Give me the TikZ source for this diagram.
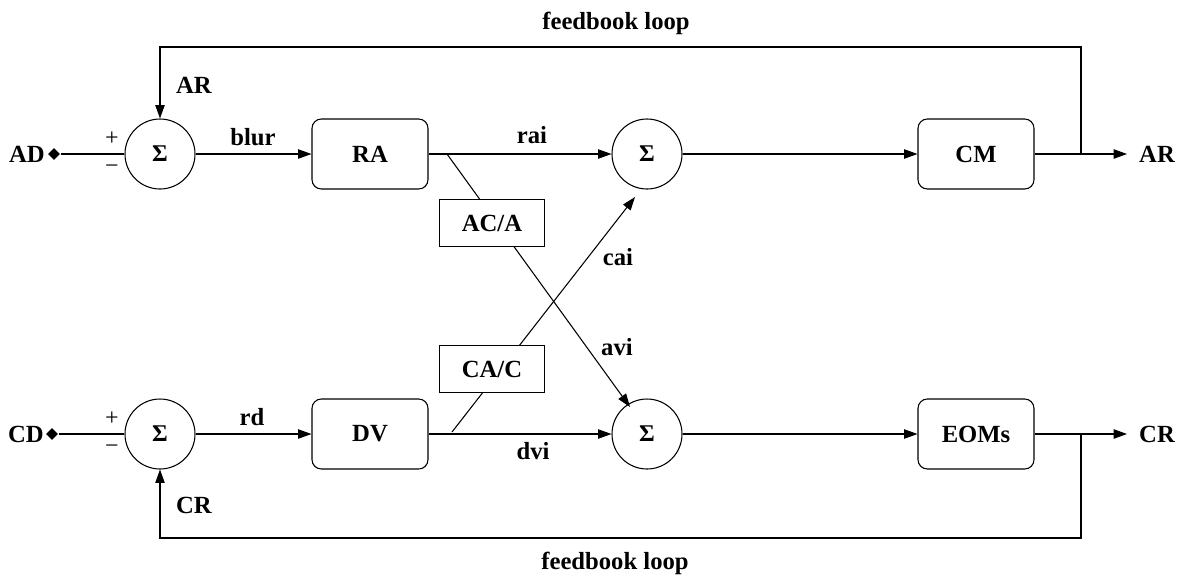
\documentclass[tikz,border=0pt]{standalone}
\usepackage{fontspec}
\setmainfont{Liberation Serif}
\usetikzlibrary{arrows.meta,shapes.geometric}
\begin{document}
\begin{tikzpicture}[x=0.75pt,y=-0.75pt,
  line width=0.8pt,
  arr/.style={-{Triangle[length=10pt,width=7pt]}},
  sumnode/.style={circle,draw,minimum size=52.5pt,inner sep=0pt,font=\fontsize{18}{20}\selectfont\bfseries},
  blk/.style={draw,rounded corners=7pt,minimum width=87pt,minimum height=52.5pt,inner sep=0pt,font=\fontsize{18.5}{21}\selectfont\bfseries},
  gain/.style={draw,fill=white,minimum width=78.75pt,minimum height=35.25pt,inner sep=0pt,font=\fontsize{18.5}{21}\selectfont\bfseries},
  lbl/.style={font=\fontsize{18.5}{21}\selectfont\bfseries,inner sep=0pt},
  sgn/.style={font=\fontsize{18}{20}\selectfont,inner sep=0pt},
  term/.style={diamond,fill=black,inner sep=0pt,minimum size=9pt}]
\useasboundingbox (0,0) rectangle (1188,576);

% summing junctions
\node[sumnode] (s1) at (160,154) {Σ};
\node[sumnode] (s2) at (647,154) {Σ};
\node[sumnode] (s3) at (160,434) {Σ};
\node[sumnode] (s4) at (647,434) {Σ};

% blocks
\node[blk] (ra) at (370,154) {RA};
\node[blk] (cm) at (976,154) {CM};
\node[blk] (dv) at (370,434) {DV};
\node[blk] (eom) at (976,434) {EOMs};

% inputs
\node[term] (ad) at (54,154) {};
\node[lbl] (adl) at (27,154) {AD};
\node[term] (cd) at (52,434) {};
\node[lbl] (cdl) at (26,434) {CD};

% signs
\node[sgn] (p1) at (112,139) {+};
\node[sgn] (m1) at (112,169) {−};
\node[sgn] (p3) at (112,419) {+};
\node[sgn] (m3) at (112,449) {−};

% outputs and loop points
\coordinate (arout) at (1127,154);
\node[lbl] (arl) at (1157,154) {AR};
\coordinate (crout) at (1127,434);
\node[lbl] (crl) at (1157,434) {CR};
\coordinate (j1) at (1081,154);
\coordinate (t1) at (1081,47);
\coordinate (t0) at (160,47);
\coordinate (j2) at (1081,434);
\coordinate (b1) at (1081,538);
\coordinate (b0) at (160,538);

% forward paths
\draw (ad) -- (s1);
\draw[arr] (s1) -- (ra);
\draw[arr] (ra) -- (s2);
\draw[arr] (s2) -- (cm);
\draw[arr] (cm) -- (arout);
\draw (cd) -- (s3);
\draw[arr] (s3) -- (dv);
\draw[arr] (dv) -- (s4);
\draw[arr] (s4) -- (eom);
\draw[arr] (eom) -- (crout);

% feedback loops
\draw[arr] (j1) -- (t1) -- (t0) -- (s1.north);
\draw[arr] (j2) -- (b1) -- (b0) -- (s3.south);

% cross couplings
\coordinate (d1) at (447,154);
\coordinate (e1) at (630,407);
\coordinate (d2) at (452,432);
\coordinate (e2) at (635,197);
\draw[arr] (d1) -- (e1);
\draw[arr] (d2) -- (e2);
\node[gain] (aca) at (492,223) {AC/A};
\node[gain] (cac) at (492,369) {CA/C};

% labels
\node[lbl] (arfb) at (194,85) {AR};
\node[lbl] (crfb) at (194,505) {CR};
\node[lbl] (blur) at (253,137) {blur};
\node[lbl] (rd) at (252,417) {rd};
\node[lbl] (rai) at (532,135) {rai};
\node[lbl] (dvi) at (533,451) {dvi};
\node[lbl] (cai) at (618,257) {cai};
\node[lbl] (avi) at (617,347) {avi};
\node[lbl] (fbt) at (616,23) {feedbook loop};
\node[lbl] (fbb) at (615,563) {feedbook loop};
\end{tikzpicture}
\end{document}
